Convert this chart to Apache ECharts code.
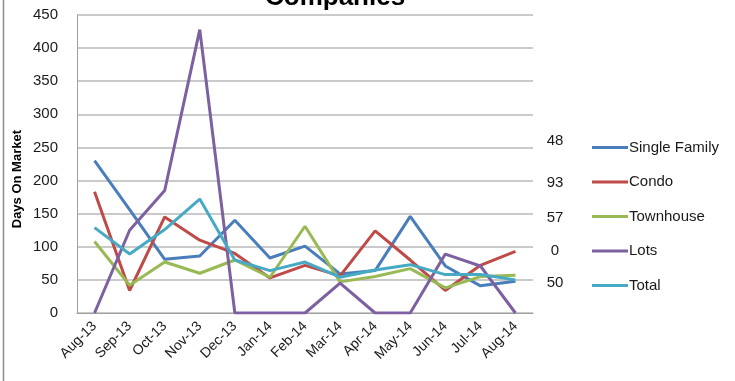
<!DOCTYPE html>
<html>
<head>
<meta charset="utf-8">
<script src="https://cdn.jsdelivr.net/npm/echarts@6/dist/echarts.min.js"></script>
<style>
  html, body { margin: 0; padding: 0; background: #fff; }
  #chart { width: 735px; height: 381px; }
</style>
</head>
<body>
<div id="chart"></div>
<script>
// Monthly categories
var months = ['Aug-13', 'Sep-13', 'Oct-13', 'Nov-13', 'Dec-13', 'Jan-14', 'Feb-14',
              'Mar-14', 'Apr-14', 'May-14', 'Jun-14', 'Jul-14', 'Aug-14'];

// Days on market per property type
var singleFamily = [230, 156, 81, 86, 140, 83, 101, 59, 64, 146, 71, 41, 48];
var condo        = [183, 34, 145, 110, 90, 53, 72, 56, 124, 80, 34, 72, 93];
var townhouse    = [108, 42, 77, 60, 80, 54, 131, 47, 55, 67, 38, 55, 57];
var lots         = [0, 125, 185, 428, 0, 0, 0, 45, 0, 0, 89, 71, 0];
var total        = [129, 89, 126, 172, 80, 64, 77, 54, 65, 73, 58, 58, 50];

var seriesNames  = ['Single Family', 'Condo', 'Townhouse', 'Lots', 'Total'];
var seriesValues = [singleFamily, condo, townhouse, lots, total];
var seriesColors = ['#4a7ebb', '#be4b48', '#98b954', '#7d60a0', '#46aac5'];

var yTicks = { min: 0, max: 450, step: 50 };

// Vertical placement of the latest-value notes beside the legend
var noteRows = [141, 183, 218, 251, 283];

var FONT = 'Liberation Sans';

var chart = echarts.init(document.getElementById('chart'), null, { renderer: 'canvas' });

var series = seriesNames.map(function (name, i) {
  return {
    name: name,
    type: 'line',
    data: seriesValues[i],
    symbol: 'none',
    smooth: false,
    lineStyle: { width: 3, color: seriesColors[i] },
    itemStyle: { color: seriesColors[i] },
    emphasis: { disabled: true },
    z: 2 + i
  };
});

// Latest month's value for each series
var lastLabels = seriesNames.map(function (name, i) {
  var vals = seriesValues[i];
  return {
    type: 'text',
    x: 555,
    y: noteRows[i],
    style: {
      text: String(vals[vals.length - 1]),
      font: '15px "' + FONT + '"',
      fill: '#1a1a1a',
      align: 'center',
      verticalAlign: 'middle'
    }
  };
});

var option = {
  animation: false,
  backgroundColor: '#ffffff',
  grid: { left: 77, right: 202, top: 15, bottom: 68, containLabel: false },
  xAxis: {
    type: 'category',
    data: months,
    boundaryGap: true,
    axisLine: { show: true, lineStyle: { color: '#a0a0a0', width: 1 } },
    axisTick: { show: false },
    axisLabel: {
      rotate: 45,
      margin: 11,
      interval: 0,
      color: '#1a1a1a',
      fontFamily: FONT,
      fontSize: 14
    },
    splitLine: { show: false }
  },
  yAxis: {
    type: 'value',
    min: yTicks.min,
    max: yTicks.max,
    interval: yTicks.step,
    axisLine: { show: true, lineStyle: { color: '#a0a0a0', width: 1 } },
    axisTick: { show: false },
    axisLabel: {
      margin: 19,
      color: '#1a1a1a',
      fontFamily: FONT,
      fontSize: 15
    },
    splitLine: { show: true, lineStyle: { color: '#b8b8b8', width: 1.5 } }
  },
  legend: {
    orient: 'vertical',
    left: 592,
    top: 140,
    padding: 0,
    itemWidth: 36,
    itemHeight: 14,
    itemGap: 19.5,
    icon: 'path://M0,0 L36,0 L36,3 L0,3 Z',
    selectedMode: false,
    textStyle: { fontFamily: FONT, fontSize: 15, color: '#1a1a1a', padding: [0, 0, 0, -4] },
    data: seriesNames
  },
  graphic: [
    {
      type: 'line',
      shape: { x1: 3.5, y1: 0, x2: 3.5, y2: 381 },
      style: { stroke: '#8c8c8c', lineWidth: 1.5 }
    },
    {
      type: 'text',
      left: 265,
      top: -15,
      style: {
        text: 'Companies',
        font: 'bold 26px "' + FONT + '"',
        fill: '#000000'
      }
    },
    {
      type: 'text',
      left: 11,
      top: 130,
      rotation: Math.PI / 2,
      style: {
        text: 'Days On Market',
        font: 'bold 13px "' + FONT + '"',
        fill: '#000000'
      }
    }
  ].concat(lastLabels),
  series: series
};

chart.setOption(option);
</script>
</body>
</html>
